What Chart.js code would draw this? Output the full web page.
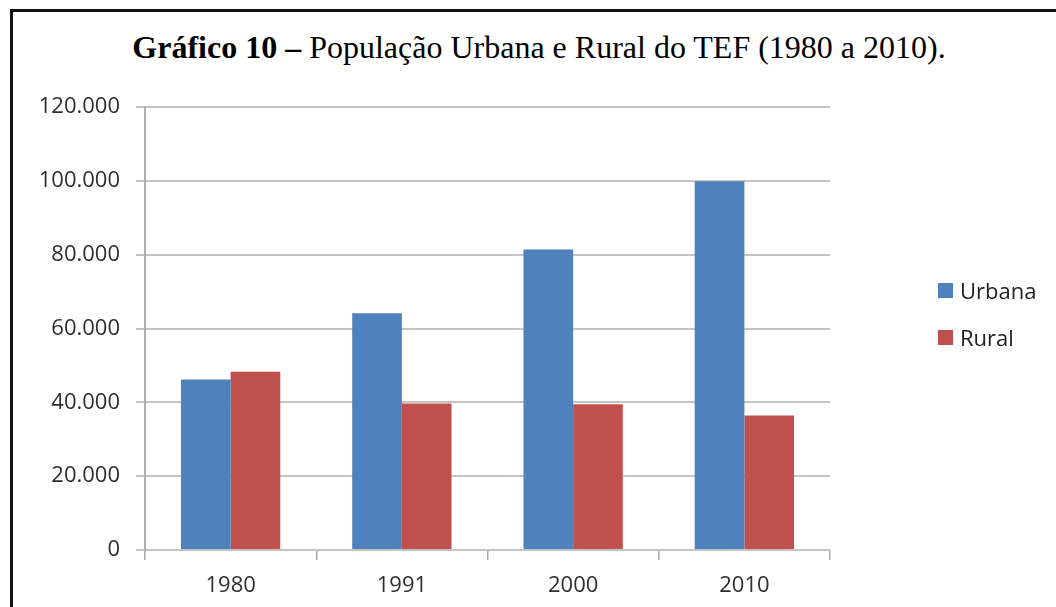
<!DOCTYPE html>
<html>
<head>
<meta charset="utf-8">
<script src="https://cdn.jsdelivr.net/npm/chart.js@4.4.1/dist/chart.umd.min.js"></script>
<style>
  html, body { margin: 0; padding: 0; background: #fff; }
  #wrap { position: relative; width: 1056px; height: 607px; overflow: hidden; }
  #frame { position: absolute; left: 10px; top: 9px; width: 1100px; height: 700px;
           border-left: 3px solid #111; border-top: 3px solid #111; box-sizing: border-box; }
  #title { position: absolute; left: 0; width: 1078px; top: 31px; text-align: center;
           font-family: "Liberation Serif", "Times New Roman", serif; font-size: 32px;
           line-height: 1; color: #000; white-space: nowrap; }
  #chart { position: absolute; left: 0; top: 0; }
  #legend { position: absolute; left: 938px; top: 278px; font-family: "Open Sans", sans-serif;
            font-size: 22px; color: #222; }
  #legend div { display: flex; align-items: center; height: 24px; margin-bottom: 23px; }
  #legend span.box { display: inline-block; width: 15px; height: 15px; margin-right: 7px; }
</style>
</head>
<body>
<div id="wrap">
  <div id="frame"></div>
  <div id="title"><b>Gráfico 10 –</b> População Urbana e Rural do TEF (1980 a 2010).</div>
  <canvas id="chart" width="1056" height="607"></canvas>
  <div id="legend"></div>
</div>
<script>
  // values (habitantes)
  const anos = ['1980', '1991', '2000', '2010'];
  const urbana = [46200, 64100, 81400, 99900];
  const rural = [48300, 39700, 39500, 36400];
  const yTicks = [0, 20000, 40000, 60000, 80000, 100000, 120000];

  const AZUL = '#4F81BD';
  const VERMELHO = '#C0504D';
  const GRADE = '#c4c4c4';
  const TEXTO = '#2e2e2e';

  const fmt = (v) => v.toLocaleString('pt-BR').replace(/,/g, '.');

  const chart = new Chart(document.getElementById('chart'), {
    type: 'bar',
    data: {
      labels: anos,
      datasets: [
        { label: 'Urbana', data: urbana, backgroundColor: AZUL, categoryPercentage: 0.58, barPercentage: 1.0 },
        { label: 'Rural', data: rural, backgroundColor: VERMELHO, categoryPercentage: 0.58, barPercentage: 1.0 }
      ]
    },
    options: {
      responsive: false,
      animation: false,
      layout: { padding: { top: 107, right: 226, bottom: 0, left: 0 } },
      plugins: {
        legend: { display: false },
        title: { display: false },
        tooltip: { enabled: false }
      },
      scales: {
        x: {
          grid: { display: true, drawOnChartArea: false, color: '#a8a8a8', lineWidth: 1.5, tickLength: 10 },
          border: { display: false },
          ticks: { color: TEXTO, font: { family: 'Open Sans', size: 22 }, padding: 13 },
          afterFit: (s) => { s.height = 57; }
        },
        y: {
          min: 0, max: 120000,
          afterBuildTicks: (s) => { s.ticks = yTicks.map(v => ({ value: v })); },
          grid: { color: GRADE, lineWidth: 2, tickLength: 9 },
          border: { color: '#b0b0b0', width: 2 },
          ticks: { color: TEXTO, font: { family: 'Open Sans', size: 22 }, padding: 16,
                   callback: (v) => fmt(v) },
          afterFit: (s) => { s.width = 145; }
        }
      }
    }
  });

  // legend built from the chart's own datasets
  const leg = document.getElementById('legend');
  chart.options.plugins.legend.labels.generateLabels(chart).forEach(item => {
    const row = document.createElement('div');
    const box = document.createElement('span');
    box.className = 'box';
    box.style.background = item.fillStyle;
    row.appendChild(box);
    row.appendChild(document.createTextNode(item.text));
    leg.appendChild(row);
  });
</script>
</body>
</html>
